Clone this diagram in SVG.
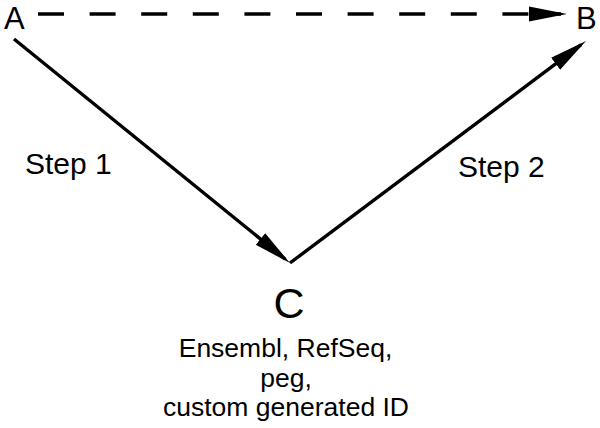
<svg xmlns="http://www.w3.org/2000/svg" width="600" height="428" viewBox="0 0 600 428">
<style>
.lbl{font-family:"Liberation Sans",Arial,sans-serif;fill:#000}
.ln{stroke:#000;stroke-width:3.4;fill:none;marker-end:url(#ah)}
</style>
<defs>
<marker id="ah" markerUnits="userSpaceOnUse" markerWidth="40" markerHeight="20" viewBox="0 -8 40 16" refX="32" refY="0" orient="auto">
<path d="M0,-7.5 L38,0 L0,7.5 z" fill="#000"/>
</marker>
</defs>
<rect width="600" height="428" fill="#fff"/>
<g id="A"><text class="lbl" x="4" y="28.5" font-size="31">A</text></g>
<g id="B"><text class="lbl" x="576" y="28.5" font-size="31">B</text></g>
<g id="C">
<text class="lbl" x="289" y="318" font-size="43" text-anchor="middle">C</text>
<text class="lbl" x="285.5" y="357" font-size="26.5" text-anchor="middle">Ensembl, RefSeq,</text>
<text class="lbl" x="286" y="387" font-size="26.5" text-anchor="middle">peg,</text>
<text class="lbl" x="286" y="416" font-size="26.5" text-anchor="middle">custom generated ID</text>
</g>
<g id="connectors">
<line class="ln" x1="38" y1="14" x2="561" y2="14" stroke-dasharray="26 25.6"/>
<line class="ln" x1="14" y1="39" x2="285.3" y2="259.2"/>
<line class="ln" x1="290" y1="263" x2="581.2" y2="44.6"/>
<text class="lbl" x="25" y="174" font-size="30">Step 1</text>
<text class="lbl" x="458" y="177" font-size="30">Step 2</text>
</g>
</svg>
